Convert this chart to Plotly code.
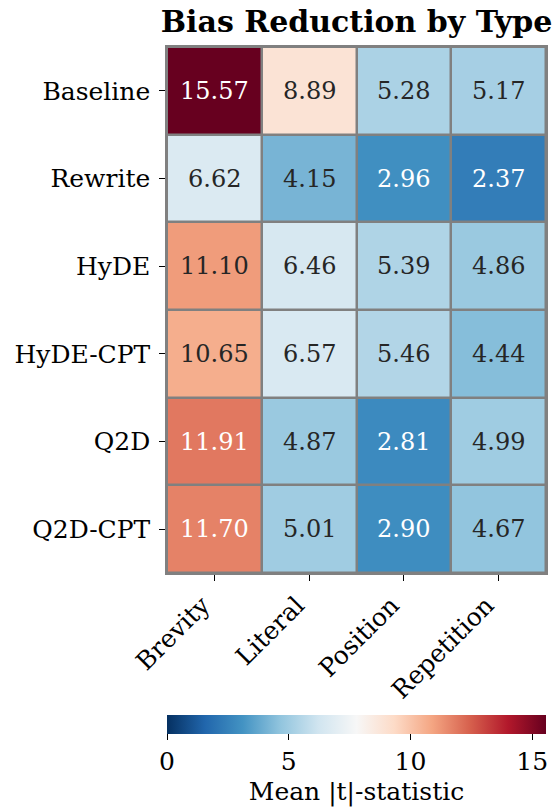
import plotly.graph_objects as go

methods = ["Baseline", "Rewrite", "HyDE", "HyDE-CPT", "Q2D", "Q2D-CPT"]
bias_types = ["Brevity", "Literal", "Position", "Repetition"]
brevity = [15.57, 6.62, 11.10, 10.65, 11.91, 11.70]
literal = [8.89, 4.15, 6.46, 6.57, 4.87, 5.01]
position = [5.28, 2.96, 5.39, 5.46, 2.81, 2.90]
repetition = [5.17, 2.37, 4.86, 4.44, 4.99, 4.67]
colorbar_ticks = [0, 5, 10, 15]

z = [[brevity[i], literal[i], position[i], repetition[i]] for i in range(len(methods))]
zmin = 0.0
zmax = max(max(r) for r in z)

rdbu_r_hex = ["#053061", "#2166ac", "#4393c3", "#92c5de", "#d1e5f0", "#f7f7f7",
              "#fddbc7", "#f4a582", "#d6604d", "#b2182b", "#67001f"]
n = len(rdbu_r_hex)
colorscale = [[i / (n - 1), c] for i, c in enumerate(rdbu_r_hex)]


def hex2rgb(h):
    h = h.lstrip("#")
    return [int(h[k:k + 2], 16) / 255 for k in (0, 2, 4)]


def color_at(v):
    t = (v - zmin) / (zmax - zmin)
    t = min(max(t, 0), 1) * (n - 1)
    i = min(int(t), n - 2)
    f = t - i
    a, b = hex2rgb(rdbu_r_hex[i]), hex2rgb(rdbu_r_hex[i + 1])
    return [a[k] + (b[k] - a[k]) * f for k in range(3)]


def lum(rgb):
    def lin(c):
        return c / 12.92 if c <= 0.03928 else ((c + 0.055) / 1.055) ** 2.4
    r, g, b = [lin(c) for c in rgb]
    return 0.2126 * r + 0.7152 * g + 0.0722 * b


FONT = "DejaVu Serif"
FS = 25
FS_ANN = 24

fig = go.Figure(go.Heatmap(
    z=z, x=bias_types, y=methods,
    colorscale=colorscale, zmin=zmin, zmax=zmax,
    xgap=2.5, ygap=2.5,
    hoverinfo="skip",
    colorbar=dict(
        orientation="h", x=0.5, xanchor="center", xref="paper",
        y=-0.27, yanchor="top", yref="paper",
        thickness=19, len=379, lenmode="pixels", xpad=0, ypad=0,
        outlinewidth=0,
        tickvals=colorbar_ticks, ticks="outside", ticklen=6, tickwidth=1.3,
        tickcolor="black",
        tickfont=dict(family=FONT, size=FS, color="black"),
        title=dict(text="Mean |t|-statistic", side="bottom",
                   font=dict(family=FONT, size=FS, color="black")),
    ),
))

annotations = []
for i, m in enumerate(methods):
    for j, b in enumerate(bias_types):
        v = z[i][j]
        col = "white" if lum(color_at(v)) < 0.408 else "#262626"
        annotations.append(dict(x=b, y=m, text=f"{v:.2f}", showarrow=False,
                                font=dict(family=FONT, size=FS_ANN, color=col)))

fig.update_layout(
    width=558, height=812,
    margin=dict(l=167, r=12, t=47, b=239, autoexpand=False),
    paper_bgcolor="white", plot_bgcolor="#808080",
    title=dict(text="<b>Bias Reduction by Type</b>", x=0.5, xref="paper",
               xanchor="center", y=0.987, yanchor="top",
               font=dict(family=FONT, size=30, color="black")),
    annotations=annotations,
    font=dict(family=FONT, size=FS, color="black"),
)
fig.update_xaxes(tickangle=-45, ticks="outside", ticklen=6, tickwidth=1.3,
                 tickcolor="black", showline=True, linecolor="#808080",
                 linewidth=1.5, mirror=True, showgrid=False, zeroline=False,
                 automargin=False, ticklabelshift=-12,
                 tickfont=dict(family=FONT, size=FS, color="black"))
fig.update_yaxes(autorange="reversed", ticks="outside", ticklen=6, tickwidth=1.3,
                 tickcolor="black", showline=True, linecolor="#808080",
                 linewidth=1.5, mirror=True, showgrid=False, zeroline=False,
                 automargin=False, ticklabelstandoff=4,
                 tickfont=dict(family=FONT, size=FS, color="black"))

fig.write_html(
    "out.html",
    config={"displayModeBar": False},
    post_script="document.body.style.margin='0';document.body.style.overflow='hidden';",
)
